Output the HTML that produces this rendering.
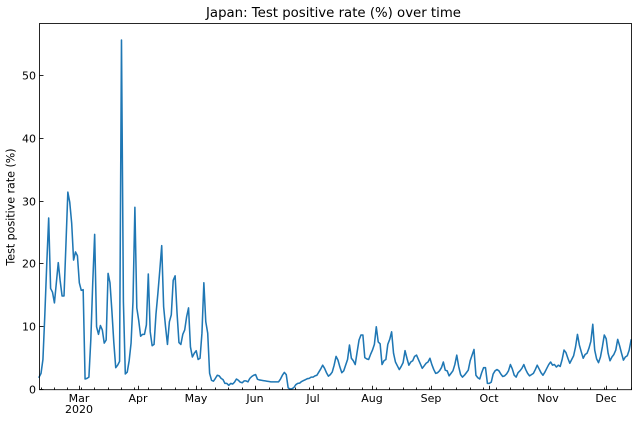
<!DOCTYPE html>
<html lang="en">
<head>
<meta charset="utf-8">
<title>Japan: Test positive rate (%) over time</title>
<style>
html,body{margin:0;padding:0;background:#fff;width:638px;height:422px;overflow:hidden}
svg{display:block}
text{font-family:"DejaVu Sans","Liberation Sans",sans-serif;fill:#000}
</style>
</head>
<body>
<svg id="chart" width="638" height="422" viewBox="0 0 638 422" xmlns="http://www.w3.org/2000/svg">
  <rect x="39.5" y="23.5" width="592" height="366.2" fill="#fff"/>
  <g id="ticks"></g>
  <path id="series" fill="none" stroke="#1f77b4" stroke-width="1.55" stroke-linejoin="round" stroke-linecap="square"/>
  <rect x="39.5" y="23.5" width="592" height="366.2" fill="none" stroke="#000" stroke-width="0.85"/>
  <text x="333.5" y="17" font-size="13.3" text-anchor="middle">Japan: Test positive rate (%) over time</text>
  <text transform="translate(14.5 207) rotate(-90)" font-size="11.05" text-anchor="middle">Test positive rate (%)</text>
  <g id="labels" font-size="11"></g>
</svg>
<script>
// Daily values, one per day, beginning at seriesStartDate
const seriesStartDate = "2020-02-09";
const positiveRate = [
2,2.6,4.8,12,20,27.3,16.1,15.5,13.8,17,20.2,17.3,14.9,14.9,23,31.4,29.8,26.5,20.6,21.9,
21.3,17,15.8,15.9,1.7,1.8,2,8,17,24.7,10,8.8,10.2,9.5,7.4,7.9,18.5,17,12.5,7.5,
3.5,3.9,4.5,55.6,14,2.5,2.8,4.6,7.4,14,29,13,11,8.5,8.8,8.8,10.3,18.4,9.2,7,
7.2,12,15.3,19,22.9,13.2,10,7.2,10.8,11.9,17.4,18.1,12.2,7.5,7.2,8.8,9.5,11.6,13,6.8,
5.2,5.8,6.2,4.8,5,9,17,10.8,9,2.6,1.5,1.35,1.8,2.3,2.2,1.8,1.6,1,1,0.7,
1,0.9,1.2,1.7,1.5,1.2,1.1,1.4,1.4,1.25,1.8,2.1,2.3,2.4,1.65,1.55,1.5,1.45,1.4,1.35,
1.3,1.25,1.25,1.25,1.25,1.25,1.7,2.3,2.75,2.4,0.3,0.1,0.15,0.35,0.8,1,1.05,1.3,1.45,1.6,
1.75,1.8,2,2,2.2,2.3,2.8,3.3,3.9,3.4,2.7,2.15,2.4,2.8,3.9,5.3,4.7,3.6,2.7,3,
3.9,4.8,7.1,5,4.6,4,6,7.9,8.7,8.7,5.1,4.9,4.8,5.6,6.3,7.2,10,7.6,7.3,4,
4.6,4.8,7.2,8,9.2,5.8,4.4,3.8,3.2,3.7,4.3,6.2,5,3.9,4.4,4.6,5.3,5.5,4.8,4.1,
3.4,3.8,4.2,4.4,5,4,3.2,2.6,2.7,3,3.5,4.4,3.1,3,2.2,2.6,3,4,5.5,3.7,
2.4,2,2.3,2.7,3.1,4.6,5.5,6.4,2.3,1.9,1.7,2.7,3.5,3.5,1,1,1.2,2.5,3,3.2,
3,2.5,2.1,2.2,2.5,3,4,3.3,2.3,2,2.7,3,3.4,4,3.2,2.6,2.2,2.4,2.6,3.2,
3.9,3.3,2.7,2.3,2.8,3.4,4,4.4,3.9,4,3.6,3.9,3.7,4.8,6.3,5.9,5,4.2,4.8,5.4,
6.8,8.8,7.1,6,5,5.6,5.8,6.6,7.7,10.4,6.3,4.9,4.3,5.2,6.8,8.7,8.1,5.8,4.6,5.2,
5.6,6.3,8,7,5.8,4.7,5.2,5.4,6.3,7.9
];
const yTickValues = [0, 10, 20, 30, 40, 50];
const monthTickDates = ["2020-03-01","2020-04-01","2020-05-01","2020-06-01","2020-07-01","2020-08-01","2020-09-01","2020-10-01","2020-11-01","2020-12-01"];
const monthTickLabels = ["Mar","Apr","May","Jun","Jul","Aug","Sep","Oct","Nov","Dec"];
const yearLabel = "2020";

const NS = "http://www.w3.org/2000/svg";
const DAY_MS = 86400000;
const plot = {left: 39.5, right: 631.5, top: 23.5, bottom: 389.7};
const startMs = Date.parse(seriesStartDate + "T00:00:00Z");
const lastIndex = positiveRate.length - 1;
const yMax = 58.22;

function xScale(dayIndex) {
  return plot.left - 0.4 + (dayIndex / lastIndex) * (plot.right - plot.left);
}
function yScale(value) {
  return plot.bottom - (value / yMax) * (plot.bottom - plot.top);
}
function dayIndexOf(iso) {
  return (Date.parse(iso + "T00:00:00Z") - startMs) / DAY_MS;
}

document.getElementById("series").setAttribute("d",
  positiveRate.map((v, i) => (i ? "L" : "M") + xScale(i).toFixed(2) + " " + yScale(v).toFixed(2)).join(""));

const ticks = document.getElementById("ticks");
const labels = document.getElementById("labels");

function addTick(x1, y1, x2, y2) {
  const t = document.createElementNS(NS, "line");
  t.setAttribute("x1", x1);
  t.setAttribute("y1", y1);
  t.setAttribute("x2", x2);
  t.setAttribute("y2", y2);
  t.setAttribute("stroke", "#000");
  t.setAttribute("stroke-width", "0.85");
  
  
  ticks.appendChild(t);
}
function addLabel(str, x, y, anchor) {
  const t = document.createElementNS(NS, "text");
  t.setAttribute("x", x);
  t.setAttribute("y", y);
  t.setAttribute("text-anchor", anchor);
  t.textContent = str;
  
  
  labels.appendChild(t);
}

yTickValues.forEach(v => {
  const y = Math.round(yScale(v) - 0.5) + 0.5;
  addTick(plot.left, y, plot.left + 4, y);
  addLabel(String(v), plot.left - 3.5, y + 4, "end");
});

// Minor ticks fall weekly, on Mondays (first Monday is one day after the series start)
for (let i = 1; i <= lastIndex; i += 7) {
  const x = Math.round(xScale(i) - 0.5) + 0.5;
  addTick(x, plot.bottom, x, plot.bottom - 2.2);
}
monthTickDates.forEach((d, k) => {
  const x = Math.round(xScale(dayIndexOf(d)) - 0.5) + 0.5;
  addTick(x, plot.bottom, x, plot.bottom - 4);
  addLabel(monthTickLabels[k], x - 0.5, 402, "middle");
  if (k === 0) addLabel(yearLabel, x - 0.5, 413, "middle");
});
</script>
</body>
</html>
